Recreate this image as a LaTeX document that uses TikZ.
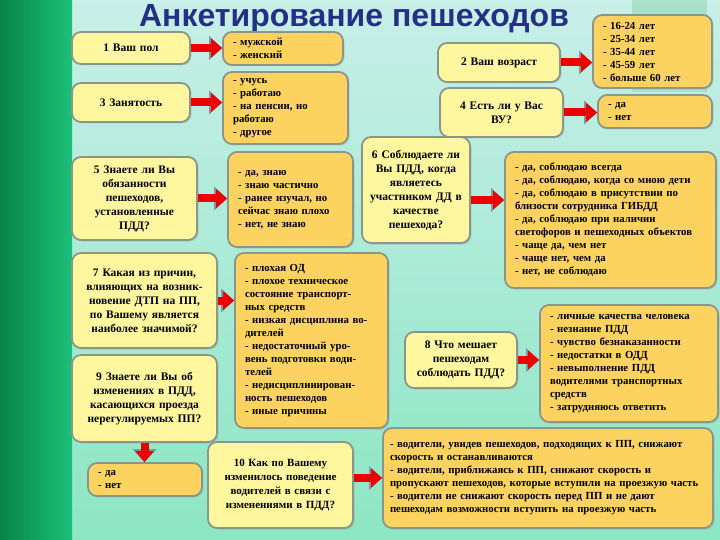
\documentclass[tikz,border=0pt]{standalone}
\usepackage{fontspec}
\setmainfont{Liberation Serif}
\newfontfamily\titlefont{Liberation Sans}
\usetikzlibrary{arrows.meta,shadows}

\definecolor{bgtop}{RGB}{200,239,232}
\definecolor{bgbot}{RGB}{140,230,196}
\definecolor{stripL}{RGB}{8,132,72}
\definecolor{stripR}{RGB}{28,192,122}
\definecolor{bandgreen}{RGB}{150,214,186}
\definecolor{titleblue}{RGB}{36,48,132}
\definecolor{qfill}{RGB}{255,247,160}
\definecolor{afill}{RGB}{252,210,96}
\definecolor{boxedge}{RGB}{138,150,138}
\definecolor{arrred}{RGB}{236,0,0}
\definecolor{arrgray}{RGB}{128,150,160}

\begin{document}
\begin{tikzpicture}[x=1pt,y=-1pt,
    qbox/.style={draw=boxedge, line width=1.8pt, rounded corners=9pt, fill=qfill,
        align=center, inner xsep=3pt, inner ysep=2pt,
        font=\bfseries\fontsize{11.5}{14}\selectfont,
        drop shadow={shadow xshift=1.5pt, shadow yshift=-1.5pt, opacity=0.25}},
    abox/.style={draw=boxedge, line width=1.8pt, rounded corners=9pt, fill=afill,
        align=left, inner xsep=10pt, inner ysep=2pt,
        font=\bfseries\fontsize{10.8}{13}\selectfont,
        drop shadow={shadow xshift=1.5pt, shadow yshift=-1.5pt, opacity=0.25}},
    bigarrow/.style={draw=arrred, line width=8pt,
        -{Triangle[length=11pt,width=19pt,line width=0pt]},
        preaction={draw=arrgray, line width=8pt,
            -{Triangle[length=13pt,width=24pt,line width=0pt]}}}]

    % фон
    \useasboundingbox (0,0) rectangle (720,540);
    \fill[top color=bgtop, bottom color=bgbot] (0,0) rectangle (720,540);
    \fill[left color=stripL, right color=stripR] (0,0) rectangle (72,540);
    \fill[bandgreen, opacity=0.6] (632,0) rectangle (707,92);

    % заголовок
    \node[anchor=base, text=titleblue, font=\titlefont\bfseries\fontsize{32}{32}\selectfont]
        (title) at (354,27) {Анкетирование пешеходов};

    % вопросы
    \node[qbox, text width=112pt, minimum height=32pt] (q1) at (131,48) {1 Ваш пол};
    \node[qbox, text width=112pt, minimum height=39pt] (q3) at (131,102.5) {3 Занятость};
    \node[qbox, text width=116pt, minimum height=39pt] (q2) at (499,62.5) {2 Ваш возраст};
    \node[qbox, text width=117pt, minimum height=49pt] (q4) at (501.5,112.5) {4 Есть ли у Вас\\ВУ?};
    \node[qbox, text width=119pt, minimum height=83pt] (q5) at (134.5,198.5)
        {5 Знаете ли Вы\\обязанности\\пешеходов,\\установленные\\ПДД?};
    \node[qbox, text width=102pt, minimum height=106pt] (q6) at (416,190)
        {6 Соблюдаете ли\\Вы ПДД, когда\\являетесь\\участником ДД в\\качестве\\пешехода?};
    \node[qbox, text width=139pt, minimum height=95pt] (q7) at (144.5,300.5)
        {7 Какая из причин,\\влияющих на возник-\\новение ДТП на ПП,\\по Вашему является\\наиболее значимой?};
    \node[qbox, text width=139pt, minimum height=87pt] (q9) at (144.5,398.5)
        {9 Знаете ли Вы об\\изменениях в ПДД,\\касающихся проезда\\нерегулируемых ПП?};
    \node[qbox, text width=106pt, minimum height=56pt] (q8) at (461,360)
        {8 Что мешает\\пешеходам\\соблюдать ПДД?};
    \node[qbox, text width=139pt, minimum height=86pt,
          font=\bfseries\fontsize{11}{14}\selectfont] (q10) at (280.5,485)
        {10 Как по Вашему\\изменилось поведение\\водителей в связи с\\изменениями в ПДД?};

    % ответы
    \node[abox, text width=100pt, minimum height=33pt] (a1) at (283,48.5) {- мужской\\- женский};
    \node[abox, text width=105pt, minimum height=72pt] (a3) at (285.5,108)
        {- учусь\\- работаю\\- на пенсии, но\\работаю\\- другое};
    \node[abox, text width=99pt, minimum height=73pt] (a2) at (652.5,51.5)
        {- 16-24 лет\\- 25-34 лет\\- 35-44 лет\\- 45-59 лет\\- больше 60 лет};
    \node[abox, text width=94pt, minimum height=33pt] (a4) at (655,111.5) {- да\\- нет};
    \node[abox, text width=105pt, minimum height=95pt] (a5) at (290.5,199.5)
        {- да, знаю\\- знаю частично\\- ранее изучал, но\\сейчас знаю плохо\\- нет, не знаю};
    \node[abox, text width=191pt, minimum height=136pt] (a6) at (610.5,220)
        {- да, соблюдаю всегда\\- да, соблюдаю, когда со мною дети\\- да, соблюдаю в присутствии по\\близости сотрудника ГИБДД\\- да, соблюдаю при наличии\\светофоров и пешеходных объектов\\- чаще да, чем нет\\- чаще нет, чем да\\- нет, не соблюдаю};
    \node[abox, text width=133pt, minimum height=175pt] (a7) at (311.5,340.5)
        {- плохая ОД\\- плохое техническое\\состояние транспорт-\\ных средств\\- низкая дисциплина во-\\дителей\\- недостаточный уро-\\вень подготовки води-\\телей\\- недисциплинирован-\\ность пешеходов\\- иные причины};
    \node[abox, text width=94pt, minimum height=33pt] (a9) at (145,479.5) {- да\\- нет};
    \node[abox, text width=158pt, minimum height=117pt] (a8) at (629,363.5)
        {- личные качества человека\\- незнание ПДД\\- чувство безнаказанности\\- недостатки в ОДД\\- невыполнение ПДД\\водителями транспортных\\средств\\- затрудняюсь ответить};
    \node[abox, inner xsep=7pt, text width=316pt, minimum height=100pt] (a10) at (548,478)
        {- водители, увидев пешеходов, подходящих к ПП, снижают\\скорость и останавливаются\\- водители, приближаясь к ПП, снижают скорость и\\пропускают пешеходов, которые вступили на проезжую часть\\- водители не снижают скорость перед ПП и не дают\\пешеходам возможности вступить на проезжую часть};

    % стрелки
    \coordinate (t6) at ([yshift=-10pt]q6.east);
    \coordinate (t10) at ([yshift=7pt]q10.east);
    \draw[bigarrow] (q1.east) -- (q1.east -| a1.west);
    \draw[bigarrow] (q3.east) -- (q3.east -| a3.west);
    \draw[bigarrow] (q2.east) -- (q2.east -| a2.west);
    \draw[bigarrow] (q4.east) -- (q4.east -| a4.west);
    \draw[bigarrow] (q5.east) -- (q5.east -| a5.west);
    \draw[bigarrow] (t6) -- (t6 -| a6.west);
    \draw[bigarrow] (q7.east) -- (q7.east -| a7.west);
    \draw[bigarrow] (q8.east) -- (q8.east -| a8.west);
    \draw[bigarrow] (q9.south) -- (q9.south |- a9.north);
    \draw[bigarrow] (t10) -- (t10 -| a10.west);
\end{tikzpicture}
\end{document}
